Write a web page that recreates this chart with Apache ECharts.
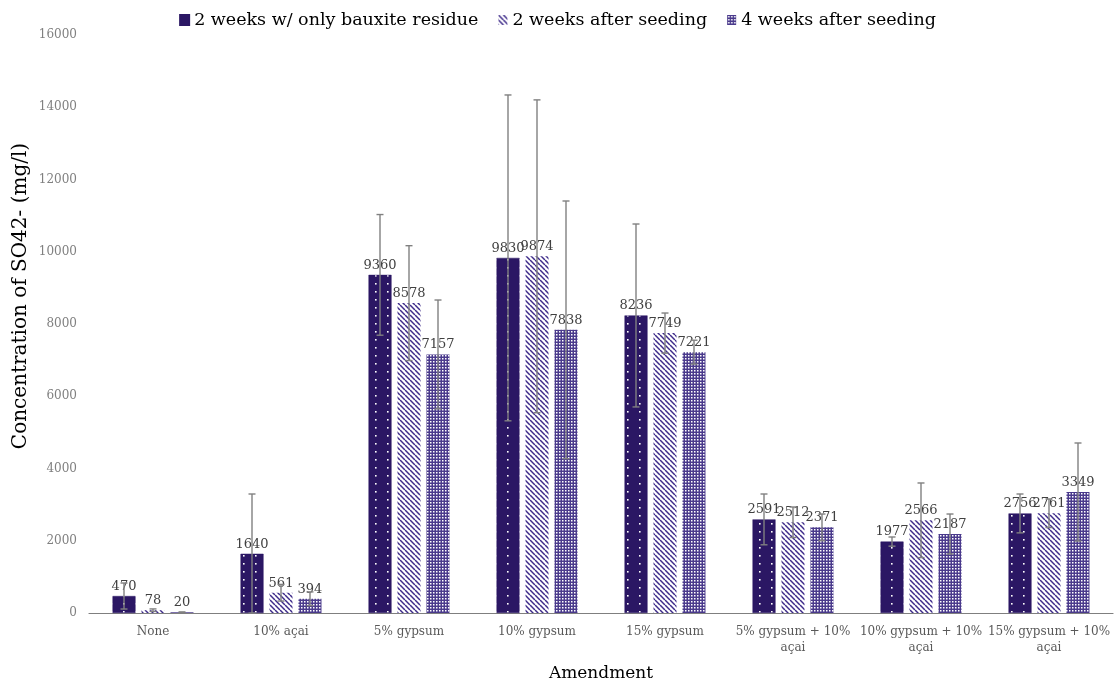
<!DOCTYPE html>
<html>
<head>
<meta charset="utf-8">
<title>SO4 concentration by amendment</title>
<script src="https://cdn.jsdelivr.net/npm/echarts@6/dist/echarts.min.js"></script>
<style>
  html, body { margin: 0; padding: 0; background: #ffffff; }
  #chart { width: 1115px; height: 684px; }
</style>
</head>
<body>
<div id="chart"></div>
<script>
// Amendment treatments (x categories)
const categories = ['None', '10% açai', '5% gypsum', '10% gypsum', '15% gypsum',
  '5% gypsum + 10% açai', '10% gypsum + 10% açai', '15% gypsum + 10% açai'];

// Series names
const seriesNames = ['2 weeks w/ only bauxite residue', '2 weeks after seeding', '4 weeks after seeding'];

// Mean SO4 2- concentration (mg/l)
const onlyResidue = [470, 1640, 9360, 9830, 8236, 2591, 1977, 2756];
const twoWeeksSeeded = [78, 561, 8578, 9874, 7749, 2512, 2566, 2761];
const fourWeeksSeeded = [20, 394, 7157, 7838, 7221, 2371, 2187, 3349];

// Error bar half-widths (mg/l)
const onlyResidueErr = [360, 1654, 1670, 4510, 2532, 703, 127, 538];
const twoWeeksSeededErr = [35, 230, 1590, 4330, 555, 422, 1033, 395];
const fourWeeksSeededErr = [10, 190, 1507, 3567, 330, 369, 553, 1357];

// Y axis ticks
const yMin = 0, yMax = 16000, yStep = 2000;
const yTitle = 'Concentration of SO42- (mg/l)';
const xTitle = 'Amendment';

const INDIGO = '#2b1764';
const FONT = '"DejaVu Serif", "Liberation Serif", serif';
const BAR_W = 23;
const BAR_GAP_PX = 6;

function makeTile(w, h, draw) {
  const c = document.createElement('canvas');
  c.width = w; c.height = h;
  draw(c.getContext('2d'));
  return c;
}
// dark fill sprinkled with white dots
const dotTile = makeTile(12, 8, g => {
  g.fillStyle = INDIGO; g.fillRect(0, 0, 12, 8);
  g.fillStyle = '#ffffff';
  g.fillRect(3, 3, 1.6, 1.6);
});
// white with dark diagonal stripes
const stripeTile = makeTile(5, 5, g => {
  g.fillStyle = '#ffffff'; g.fillRect(0, 0, 5, 5);
  g.strokeStyle = '#3e2b8a'; g.lineWidth = 1.5;
  for (let k = -5; k <= 5; k += 5) {
    g.beginPath(); g.moveTo(k, 0); g.lineTo(k + 5, 5); g.stroke();
  }
});
// fine lattice
const meshTile = makeTile(3, 3, g => {
  g.fillStyle = '#4a3a8c'; g.fillRect(0, 0, 3, 3);
  g.fillStyle = '#ffffff'; g.fillRect(1, 1, 1.5, 1.5);
});

const fills = [
  { image: dotTile, repeat: 'repeat' },
  { image: stripeTile, repeat: 'repeat' },
  { image: meshTile, repeat: 'repeat' }
];
const values = [onlyResidue, twoWeeksSeeded, fourWeeksSeeded];
const errors = [onlyResidueErr, twoWeeksSeededErr, fourWeeksSeededErr];

const series = [];
values.forEach((vals, i) => {
  series.push({
    name: seriesNames[i],
    type: 'bar',
    data: vals,
    barWidth: BAR_W,
    barGap: (BAR_GAP_PX / BAR_W * 100).toFixed(0) + '%',
    itemStyle: { color: fills[i], borderColor: i === 0 ? INDIGO : 'transparent', borderWidth: i === 0 ? 0.5 : 0 },
    label: { show: true, position: 'top', distance: 3, color: '#404040', fontFamily: FONT, fontSize: 13 },
    z: 2
  });
});
// error bars (mean ± half-width), drawn over each bar of the group
values.forEach((vals, i) => {
  const offset = (i - 1) * (BAR_W + BAR_GAP_PX);
  series.push({
    type: 'custom',
    name: seriesNames[i] + ' error',
    data: vals.map((v, k) => [k, v, errors[i][k]]),
    encode: { x: 0, y: 1 },
    silent: true,
    z: 5,
    renderItem: (params, api) => {
      const idx = api.value(0), v = api.value(1), e = api.value(2);
      const x = api.coord([idx, 0])[0] + offset;
      const yTop = api.coord([idx, v + e])[1];
      const yBot = api.coord([idx, Math.max(0, v - e)])[1];
      const cap = 3.5;
      const st = { stroke: '#808080', lineWidth: 1.4 };
      return {
        type: 'group',
        children: [
          { type: 'line', shape: { x1: x, y1: yTop, x2: x, y2: yBot }, style: st },
          { type: 'line', shape: { x1: x - cap, y1: yTop, x2: x + cap, y2: yTop }, style: st },
          { type: 'line', shape: { x1: x - cap, y1: yBot, x2: x + cap, y2: yBot }, style: st }
        ]
      };
    }
  });
});

const chart = echarts.init(document.getElementById('chart'), null, { renderer: 'canvas' });
chart.setOption({
  animation: false,
  backgroundColor: '#ffffff',
  textStyle: { fontFamily: FONT },
  legend: {
    data: seriesNames.map((n, i) => i === 0 ? { name: n, itemStyle: { color: INDIGO } } : n),
    icon: 'rect',
    top: 6, left: 'center', itemWidth: 9, itemHeight: 10, itemGap: 20,
    textStyle: { color: '#000000', fontFamily: FONT, fontSize: 17.5 }
  },
  graphic: [{
    type: 'text', x: 21, y: 296, rotation: Math.PI / 2,
    style: { text: yTitle, fill: '#000000', font: '20px ' + FONT, textAlign: 'center', textVerticalAlign: 'middle' }
  }],
  grid: { left: 89, right: 2, top: 35, bottom: 71, containLabel: false, outerBoundsMode: 'none' },
  xAxis: {
    type: 'category', data: categories, name: xTitle, nameLocation: 'middle', nameGap: 52,
    nameTextStyle: { color: '#000000', fontFamily: FONT, fontSize: 17 },
    axisLine: { lineStyle: { color: '#7f7f7f', width: 1.2 } },
    axisTick: { show: false },
    axisLabel: {
      interval: 0, margin: 11, color: '#595959', fontFamily: FONT, fontSize: 12, lineHeight: 16,
      formatter: v => v.indexOf(' + ') > -1 ? v.replace(/ (\S+)$/, '\n$1') : v
    }
  },
  yAxis: {
    type: 'value', min: yMin, max: yMax, interval: yStep,
    axisLine: { show: false }, axisTick: { show: false }, splitLine: { show: false },
    axisLabel: { color: '#808080', fontFamily: FONT, fontSize: 12, margin: 12, formatter: v => String(v) }
  },
  series: series
});
</script>
</body>
</html>
